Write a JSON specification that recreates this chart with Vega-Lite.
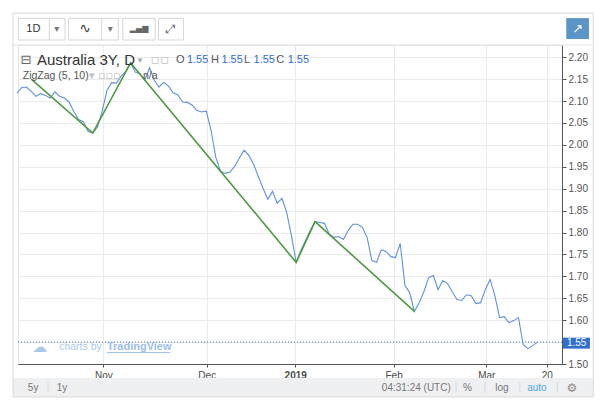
{
  "$schema": "https://vega.github.io/schema/vega-lite/v6.json",
  "description": "Australia 3Y bond yield, daily, with ZigZag (5, 10) indicator, TradingView style.",
  "width": 544,
  "height": 319,
  "autosize": "none",
  "padding": {"left": 18, "top": 45, "right": 39, "bottom": 37},
  "background": "white",
  "config": {
    "font": "Liberation Sans",
    "view": {"stroke": "#e3e3e3"}
  },
  "resolve": {"axis": {"x": "independent", "y": "independent"}},
  "datasets": {
    "price": [
      {"bar": 0, "yield": 2.118}, {"bar": 1, "yield": 2.131}, {"bar": 2, "yield": 2.132}, {"bar": 3, "yield": 2.122},
      {"bar": 4, "yield": 2.111}, {"bar": 5, "yield": 2.117}, {"bar": 6, "yield": 2.113}, {"bar": 7, "yield": 2.107},
      {"bar": 8, "yield": 2.121}, {"bar": 9, "yield": 2.111}, {"bar": 10, "yield": 2.107}, {"bar": 11, "yield": 2.098},
      {"bar": 12, "yield": 2.076}, {"bar": 13, "yield": 2.058}, {"bar": 14, "yield": 2.053}, {"bar": 15, "yield": 2.031},
      {"bar": 16, "yield": 2.027}, {"bar": 17, "yield": 2.041}, {"bar": 18, "yield": 2.077}, {"bar": 19, "yield": 2.124},
      {"bar": 20, "yield": 2.142}, {"bar": 21, "yield": 2.141}, {"bar": 22, "yield": 2.157}, {"bar": 23, "yield": 2.168},
      {"bar": 24, "yield": 2.187}, {"bar": 25, "yield": 2.166}, {"bar": 26, "yield": 2.162}, {"bar": 27, "yield": 2.148},
      {"bar": 28, "yield": 2.176}, {"bar": 29, "yield": 2.148}, {"bar": 30, "yield": 2.132}, {"bar": 31, "yield": 2.143},
      {"bar": 32, "yield": 2.134}, {"bar": 33, "yield": 2.119}, {"bar": 34, "yield": 2.114}, {"bar": 35, "yield": 2.098},
      {"bar": 36, "yield": 2.097}, {"bar": 37, "yield": 2.091}, {"bar": 38, "yield": 2.079}, {"bar": 39, "yield": 2.075},
      {"bar": 40, "yield": 2.077}, {"bar": 41, "yield": 2.034}, {"bar": 42, "yield": 1.972}, {"bar": 43, "yield": 1.940},
      {"bar": 44, "yield": 1.935}, {"bar": 45, "yield": 1.938}, {"bar": 46, "yield": 1.951}, {"bar": 47, "yield": 1.970},
      {"bar": 48, "yield": 1.988}, {"bar": 49, "yield": 1.976}, {"bar": 50, "yield": 1.956}, {"bar": 51, "yield": 1.928},
      {"bar": 52, "yield": 1.901}, {"bar": 53, "yield": 1.876}, {"bar": 54, "yield": 1.894}, {"bar": 55, "yield": 1.867},
      {"bar": 56, "yield": 1.878}, {"bar": 57, "yield": 1.846}, {"bar": 58, "yield": 1.793}, {"bar": 59, "yield": 1.732},
      {"bar": 60, "yield": 1.759}, {"bar": 61, "yield": 1.782}, {"bar": 62, "yield": 1.805}, {"bar": 63, "yield": 1.825},
      {"bar": 64, "yield": 1.823}, {"bar": 65, "yield": 1.821}, {"bar": 66, "yield": 1.796}, {"bar": 67, "yield": 1.789},
      {"bar": 68, "yield": 1.791}, {"bar": 69, "yield": 1.784}, {"bar": 70, "yield": 1.805}, {"bar": 71, "yield": 1.819},
      {"bar": 72, "yield": 1.819}, {"bar": 73, "yield": 1.812}, {"bar": 74, "yield": 1.789}, {"bar": 75, "yield": 1.736},
      {"bar": 76, "yield": 1.732}, {"bar": 77, "yield": 1.761}, {"bar": 78, "yield": 1.757}, {"bar": 79, "yield": 1.745},
      {"bar": 80, "yield": 1.743}, {"bar": 81, "yield": 1.775}, {"bar": 82, "yield": 1.679}, {"bar": 83, "yield": 1.663},
      {"bar": 84, "yield": 1.620}, {"bar": 85, "yield": 1.640}, {"bar": 86, "yield": 1.665}, {"bar": 87, "yield": 1.697},
      {"bar": 88, "yield": 1.702}, {"bar": 89, "yield": 1.670}, {"bar": 90, "yield": 1.690}, {"bar": 91, "yield": 1.684},
      {"bar": 92, "yield": 1.665}, {"bar": 93, "yield": 1.647}, {"bar": 94, "yield": 1.645}, {"bar": 95, "yield": 1.658},
      {"bar": 96, "yield": 1.656}, {"bar": 97, "yield": 1.638}, {"bar": 98, "yield": 1.640}, {"bar": 99, "yield": 1.670},
      {"bar": 100, "yield": 1.693}, {"bar": 101, "yield": 1.656}, {"bar": 102, "yield": 1.606}, {"bar": 103, "yield": 1.608},
      {"bar": 104, "yield": 1.594}, {"bar": 105, "yield": 1.599}, {"bar": 106, "yield": 1.606}, {"bar": 107, "yield": 1.544},
      {"bar": 108, "yield": 1.535}, {"bar": 109, "yield": 1.542}, {"bar": 110, "yield": 1.550}
    ],
    "zigzag": [
      {"bar": 3, "yield": 2.150},
      {"bar": 16, "yield": 2.027},
      {"bar": 24, "yield": 2.187},
      {"bar": 59, "yield": 1.732},
      {"bar": 63, "yield": 1.825},
      {"bar": 84, "yield": 1.620}
    ]
  },
  "data": {"values": [{}]},
  "layer": [
    {
      "data": {"name": "price"},
      "mark": {"type": "line", "color": "#5e92d8", "strokeWidth": 1.1},
      "encoding": {
        "x": {
          "field": "bar",
          "type": "quantitative",
          "scale": {"domain": [0.2, 115.2], "nice": false, "zero": false},
          "axis": {
            "title": null,
            "values": [18.25, 40.1, 58.8, 79.6, 99.2, 112],
            "labelExpr": "datum.value < 20 ? 'Nov' : datum.value < 45 ? 'Dec' : datum.value < 60 ? '2019' : datum.value < 90 ? 'Feb' : datum.value < 105 ? 'Mar' : '20'",
            "labelFontWeight": {"condition": {"test": "datum.value > 50 && datum.value < 60", "value": "bold"}, "value": "normal"},
            "labelFontSize": 10,
            "labelColor": "#4a4a4a",
            "labelPadding": 3,
            "labelOverlap": false,
            "tickSize": 3,
            "tickColor": "#555",
            "domainColor": "#555",
            "gridColor": "#ebebeb"
          }
        },
        "y": {
          "field": "yield",
          "type": "quantitative",
          "scale": {"domain": [1.5, 2.228], "nice": false, "zero": false},
          "axis": {
            "title": null,
            "orient": "right",
            "values": [1.5, 1.55, 1.6, 1.65, 1.7, 1.75, 1.8, 1.85, 1.9, 1.95, 2.0, 2.05, 2.1, 2.15, 2.2],
            "labelExpr": "abs(datum.value - 1.55) < 0.001 ? '' : format(datum.value, '.2f')",
            "labelFontSize": 10,
            "labelColor": "#555",
            "labelPadding": 2,
            "labelOverlap": false,
            "tickSize": 4,
            "tickColor": "#555",
            "domainColor": "#555",
            "gridColor": "#ebebeb"
          }
        }
      }
    },
    {
      "data": {"name": "zigzag"},
      "mark": {"type": "line", "color": "#4e9a43", "strokeWidth": 1.6},
      "encoding": {
        "x": {"field": "bar", "type": "quantitative", "axis": null},
        "y": {"field": "yield", "type": "quantitative", "axis": null}
      }
    },
    {
      "mark": {"type": "rule", "color": "#3b78d0", "strokeDash": [1, 2], "strokeWidth": 1},
      "encoding": {"y": {"datum": 1.55, "type": "quantitative", "axis": null}}
    },
    {
      "mark": {"type": "rect", "color": "#2f6fcf"},
      "encoding": {
        "x": {"datum": 115.4, "type": "quantitative", "axis": null}, "x2": {"datum": 121.1},
        "y": {"datum": 1.5601, "type": "quantitative", "axis": null}, "y2": {"datum": 1.5351}
      }
    },
    {
      "mark": {"type": "text", "text": "1.55", "color": "white", "fontSize": 10, "align": "center", "baseline": "middle"},
      "encoding": {"x": {"datum": 118.3, "type": "quantitative", "axis": null}, "y": {"datum": 1.5478, "type": "quantitative", "axis": null}}
    },
    {
      "mark": {"type": "text", "text": "⊟", "color": "#666", "fontSize": 13, "align": "center", "baseline": "middle", "font": "DejaVu Sans"},
      "encoding": {"x": {"datum": 1.9, "type": "quantitative", "axis": null}, "y": {"datum": 2.194, "type": "quantitative", "axis": null}}
    },
    {
      "mark": {"type": "text", "text": "Australia 3Y, D", "color": "#333", "fontSize": 15, "align": "left", "baseline": "middle"},
      "encoding": {"x": {"datum": 4.2, "type": "quantitative", "axis": null}, "y": {"datum": 2.194, "type": "quantitative", "axis": null}}
    },
    {
      "mark": {"type": "text", "text": "▾", "color": "#aaa", "fontSize": 9, "align": "center", "baseline": "middle", "font": "DejaVu Sans"},
      "encoding": {"x": {"datum": 26.0, "type": "quantitative", "axis": null}, "y": {"datum": 2.194, "type": "quantitative", "axis": null}}
    },
    {
      "mark": {"type": "text", "text": "▫▫", "color": "#c8c8c8", "fontSize": 14, "align": "left", "baseline": "middle", "font": "DejaVu Sans"},
      "encoding": {"x": {"datum": 28.2, "type": "quantitative", "axis": null}, "y": {"datum": 2.194, "type": "quantitative", "axis": null}}
    },
    {
      "mark": {"type": "text", "text": "O", "color": "#555", "fontSize": 11, "align": "left", "baseline": "middle"},
      "encoding": {"x": {"datum": 33.6, "type": "quantitative", "axis": null}, "y": {"datum": 2.194, "type": "quantitative", "axis": null}}
    },
    {
      "mark": {"type": "text", "text": "1.55", "color": "#2f6fcf", "fontSize": 11, "align": "left", "baseline": "middle"},
      "encoding": {"x": {"datum": 35.9, "type": "quantitative", "axis": null}, "y": {"datum": 2.194, "type": "quantitative", "axis": null}}
    },
    {
      "mark": {"type": "text", "text": "H", "color": "#555", "fontSize": 11, "align": "left", "baseline": "middle"},
      "encoding": {"x": {"datum": 41.0, "type": "quantitative", "axis": null}, "y": {"datum": 2.194, "type": "quantitative", "axis": null}}
    },
    {
      "mark": {"type": "text", "text": "1.55", "color": "#2f6fcf", "fontSize": 11, "align": "left", "baseline": "middle"},
      "encoding": {"x": {"datum": 43.2, "type": "quantitative", "axis": null}, "y": {"datum": 2.194, "type": "quantitative", "axis": null}}
    },
    {
      "mark": {"type": "text", "text": "L", "color": "#555", "fontSize": 11, "align": "left", "baseline": "middle"},
      "encoding": {"x": {"datum": 48.0, "type": "quantitative", "axis": null}, "y": {"datum": 2.194, "type": "quantitative", "axis": null}}
    },
    {
      "mark": {"type": "text", "text": "1.55", "color": "#2f6fcf", "fontSize": 11, "align": "left", "baseline": "middle"},
      "encoding": {"x": {"datum": 50.0, "type": "quantitative", "axis": null}, "y": {"datum": 2.194, "type": "quantitative", "axis": null}}
    },
    {
      "mark": {"type": "text", "text": "C", "color": "#555", "fontSize": 11, "align": "left", "baseline": "middle"},
      "encoding": {"x": {"datum": 54.8, "type": "quantitative", "axis": null}, "y": {"datum": 2.194, "type": "quantitative", "axis": null}}
    },
    {
      "mark": {"type": "text", "text": "1.55", "color": "#2f6fcf", "fontSize": 11, "align": "left", "baseline": "middle"},
      "encoding": {"x": {"datum": 57.2, "type": "quantitative", "axis": null}, "y": {"datum": 2.194, "type": "quantitative", "axis": null}}
    },
    {
      "mark": {"type": "text", "text": "ZigZag (5, 10)", "color": "#555", "fontSize": 10.5, "align": "left", "baseline": "middle"},
      "encoding": {"x": {"datum": 1.2, "type": "quantitative", "axis": null}, "y": {"datum": 2.1575, "type": "quantitative", "axis": null}}
    },
    {
      "mark": {"type": "text", "text": "▾  ▫▫▫", "color": "#c0c0c0", "fontSize": 11, "align": "left", "baseline": "middle", "font": "DejaVu Sans"},
      "encoding": {"x": {"datum": 15.2, "type": "quantitative", "axis": null}, "y": {"datum": 2.1575, "type": "quantitative", "axis": null}}
    },
    {
      "mark": {"type": "text", "text": "n/a", "color": "#555", "fontSize": 10.5, "align": "left", "baseline": "middle"},
      "encoding": {"x": {"datum": 26.6, "type": "quantitative", "axis": null}, "y": {"datum": 2.1575, "type": "quantitative", "axis": null}}
    },
    {
      "mark": {"type": "text", "text": "☁", "color": "#a9c9ea", "fontSize": 15, "align": "left", "baseline": "middle", "font": "DejaVu Sans"},
      "encoding": {"x": {"datum": 3.2, "type": "quantitative", "axis": null}, "y": {"datum": 1.5386, "type": "quantitative", "axis": null}}
    },
    {
      "mark": {"type": "text", "text": "charts by", "color": "#a9c9ea", "fontSize": 10.5, "align": "left", "baseline": "middle"},
      "encoding": {"x": {"datum": 8.9, "type": "quantitative", "axis": null}, "y": {"datum": 1.5386, "type": "quantitative", "axis": null}}
    },
    {
      "mark": {"type": "text", "text": "TradingView", "color": "#9cc0e6", "fontSize": 11, "fontWeight": "bold", "align": "left", "baseline": "middle"},
      "encoding": {"x": {"datum": 19.0, "type": "quantitative", "axis": null}, "y": {"datum": 1.5386, "type": "quantitative", "axis": null}}
    },
    {
      "mark": {"type": "rule", "color": "#9cc0e6", "strokeWidth": 1},
      "encoding": {
        "x": {"datum": 19.0, "type": "quantitative", "axis": null}, "x2": {"datum": 32.4},
        "y": {"datum": 1.526, "type": "quantitative", "axis": null}
      }
    },
    {
      "mark": {"type": "rect", "color": "#eff0f2"},
      "encoding": {
        "x": {"datum": -0.85, "type": "quantitative", "axis": null}, "x2": {"datum": 121.8},
        "y": {"datum": 1.468, "type": "quantitative", "axis": null}, "y2": {"datum": 1.4248}
      }
    },
    {
      "mark": {"type": "text", "text": "5y", "color": "#777", "fontSize": 10, "align": "center", "baseline": "middle"},
      "encoding": {"x": {"datum": 3.4, "type": "quantitative", "axis": null}, "y": {"datum": 1.4459, "type": "quantitative", "axis": null}}
    },
    {
      "mark": {"type": "text", "text": "1y", "color": "#777", "fontSize": 10, "align": "center", "baseline": "middle"},
      "encoding": {"x": {"datum": 9.5, "type": "quantitative", "axis": null}, "y": {"datum": 1.4459, "type": "quantitative", "axis": null}}
    },
    {
      "mark": {"type": "text", "text": "04:31:24 (UTC)", "color": "#777", "fontSize": 10, "align": "center", "baseline": "middle"},
      "encoding": {"x": {"datum": 84.4, "type": "quantitative", "axis": null}, "y": {"datum": 1.4459, "type": "quantitative", "axis": null}}
    },
    {
      "mark": {"type": "text", "text": "%", "color": "#777", "fontSize": 10, "align": "center", "baseline": "middle"},
      "encoding": {"x": {"datum": 95.2, "type": "quantitative", "axis": null}, "y": {"datum": 1.4459, "type": "quantitative", "axis": null}}
    },
    {
      "mark": {"type": "text", "text": "log", "color": "#777", "fontSize": 10, "align": "center", "baseline": "middle"},
      "encoding": {"x": {"datum": 102.5, "type": "quantitative", "axis": null}, "y": {"datum": 1.4459, "type": "quantitative", "axis": null}}
    },
    {
      "mark": {"type": "text", "text": "auto", "color": "#52a8e0", "fontSize": 10, "align": "center", "baseline": "middle"},
      "encoding": {"x": {"datum": 109.9, "type": "quantitative", "axis": null}, "y": {"datum": 1.4459, "type": "quantitative", "axis": null}}
    },
    {
      "mark": {"type": "text", "text": "⚙", "color": "#888", "fontSize": 12, "align": "center", "baseline": "middle", "font": "DejaVu Sans"},
      "encoding": {"x": {"datum": 117.3, "type": "quantitative", "axis": null}, "y": {"datum": 1.4459, "type": "quantitative", "axis": null}}
    },
    {
      "mark": {"type": "rule", "color": "#d8d8d8"},
      "encoding": {"x": {"datum": 6.55, "type": "quantitative", "axis": null}, "y": {"datum": 1.459, "type": "quantitative", "axis": null}, "y2": {"datum": 1.434}}
    },
    {
      "mark": {"type": "rule", "color": "#d8d8d8"},
      "encoding": {"x": {"datum": 92.8, "type": "quantitative", "axis": null}, "y": {"datum": 1.459, "type": "quantitative", "axis": null}, "y2": {"datum": 1.434}}
    },
    {
      "mark": {"type": "rule", "color": "#d8d8d8"},
      "encoding": {"x": {"datum": 98.9, "type": "quantitative", "axis": null}, "y": {"datum": 1.459, "type": "quantitative", "axis": null}, "y2": {"datum": 1.434}}
    },
    {
      "mark": {"type": "rule", "color": "#d8d8d8"},
      "encoding": {"x": {"datum": 106.3, "type": "quantitative", "axis": null}, "y": {"datum": 1.459, "type": "quantitative", "axis": null}, "y2": {"datum": 1.434}}
    },
    {
      "mark": {"type": "rule", "color": "#d8d8d8"},
      "encoding": {"x": {"datum": 114.2, "type": "quantitative", "axis": null}, "y": {"datum": 1.459, "type": "quantitative", "axis": null}, "y2": {"datum": 1.434}}
    },
    {
      "mark": {"type": "rect", "fill": null, "stroke": "#d9d9d9", "strokeWidth": 1},
      "encoding": {
        "x": {"datum": -0.85, "type": "quantitative", "axis": null}, "x2": {"datum": 121.8},
        "y": {"datum": 2.3008, "type": "quantitative", "axis": null}, "y2": {"datum": 1.4248}
      }
    },
    {
      "mark": {"type": "rule", "color": "#e3e3e3"},
      "encoding": {"x": {"datum": -0.85, "type": "quantitative", "axis": null}, "x2": {"datum": 121.8}, "y": {"datum": 2.228, "type": "quantitative", "axis": null}}
    },
    {
      "mark": {"type": "rect", "fill": "white", "stroke": "#d6d6d6", "strokeWidth": 1},
      "encoding": {
        "x": {"datum": 0.27, "type": "quantitative", "axis": null}, "x2": {"datum": 10.15},
        "y": {"datum": 2.2887, "type": "quantitative", "axis": null}, "y2": {"datum": 2.2394}
      }
    },
    {
      "mark": {"type": "rect", "fill": "white", "stroke": "#d6d6d6", "strokeWidth": 1},
      "encoding": {
        "x": {"datum": 10.85, "type": "quantitative", "axis": null}, "x2": {"datum": 21.4},
        "y": {"datum": 2.2887, "type": "quantitative", "axis": null}, "y2": {"datum": 2.2394}
      }
    },
    {
      "mark": {"type": "rect", "fill": "white", "stroke": "#d6d6d6", "strokeWidth": 1},
      "encoding": {
        "x": {"datum": 22.35, "type": "quantitative", "axis": null}, "x2": {"datum": 29.2},
        "y": {"datum": 2.2887, "type": "quantitative", "axis": null}, "y2": {"datum": 2.2394}
      }
    },
    {
      "mark": {"type": "rect", "fill": "white", "stroke": "#d6d6d6", "strokeWidth": 1},
      "encoding": {
        "x": {"datum": 29.9, "type": "quantitative", "axis": null}, "x2": {"datum": 35.2},
        "y": {"datum": 2.2887, "type": "quantitative", "axis": null}, "y2": {"datum": 2.2394}
      }
    },
    {
      "mark": {"type": "rule", "color": "#d6d6d6"},
      "encoding": {"x": {"datum": 6.83, "type": "quantitative", "axis": null}, "y": {"datum": 2.2887, "type": "quantitative", "axis": null}, "y2": {"datum": 2.2394}}
    },
    {
      "mark": {"type": "rule", "color": "#d6d6d6"},
      "encoding": {"x": {"datum": 17.9, "type": "quantitative", "axis": null}, "y": {"datum": 2.2887, "type": "quantitative", "axis": null}, "y2": {"datum": 2.2394}}
    },
    {
      "mark": {"type": "text", "text": "1D", "color": "#333", "fontSize": 11, "align": "center", "baseline": "middle"},
      "encoding": {"x": {"datum": 3.45, "type": "quantitative", "axis": null}, "y": {"datum": 2.2644, "type": "quantitative", "axis": null}}
    },
    {
      "mark": {"type": "text", "text": "▾", "color": "#777", "fontSize": 10, "align": "center", "baseline": "middle", "font": "DejaVu Sans"},
      "encoding": {"x": {"datum": 8.4, "type": "quantitative", "axis": null}, "y": {"datum": 2.2644, "type": "quantitative", "axis": null}}
    },
    {
      "mark": {"type": "text", "text": "∿", "color": "#444", "fontSize": 14, "align": "center", "baseline": "middle", "font": "DejaVu Sans"},
      "encoding": {"x": {"datum": 14.4, "type": "quantitative", "axis": null}, "y": {"datum": 2.2644, "type": "quantitative", "axis": null}}
    },
    {
      "mark": {"type": "text", "text": "▾", "color": "#777", "fontSize": 10, "align": "center", "baseline": "middle", "font": "DejaVu Sans"},
      "encoding": {"x": {"datum": 19.7, "type": "quantitative", "axis": null}, "y": {"datum": 2.2644, "type": "quantitative", "axis": null}}
    },
    {
      "mark": {"type": "text", "text": "▂▄▆", "color": "#666", "fontSize": 8, "align": "center", "baseline": "middle", "font": "DejaVu Sans"},
      "encoding": {"x": {"datum": 25.8, "type": "quantitative", "axis": null}, "y": {"datum": 2.2644, "type": "quantitative", "axis": null}}
    },
    {
      "mark": {"type": "text", "text": "⤢", "color": "#666", "fontSize": 12, "align": "center", "baseline": "middle", "font": "DejaVu Sans"},
      "encoding": {"x": {"datum": 32.5, "type": "quantitative", "axis": null}, "y": {"datum": 2.2644, "type": "quantitative", "axis": null}}
    },
    {
      "mark": {"type": "rect", "color": "#5b95c8"},
      "encoding": {
        "x": {"datum": 116.1, "type": "quantitative", "axis": null}, "x2": {"datum": 120.9},
        "y": {"datum": 2.2894, "type": "quantitative", "axis": null}, "y2": {"datum": 2.2416}
      }
    },
    {
      "mark": {"type": "text", "text": "↗", "color": "white", "fontSize": 13, "align": "center", "baseline": "middle", "font": "DejaVu Sans"},
      "encoding": {"x": {"datum": 118.5, "type": "quantitative", "axis": null}, "y": {"datum": 2.2655, "type": "quantitative", "axis": null}}
    }
  ]
}
